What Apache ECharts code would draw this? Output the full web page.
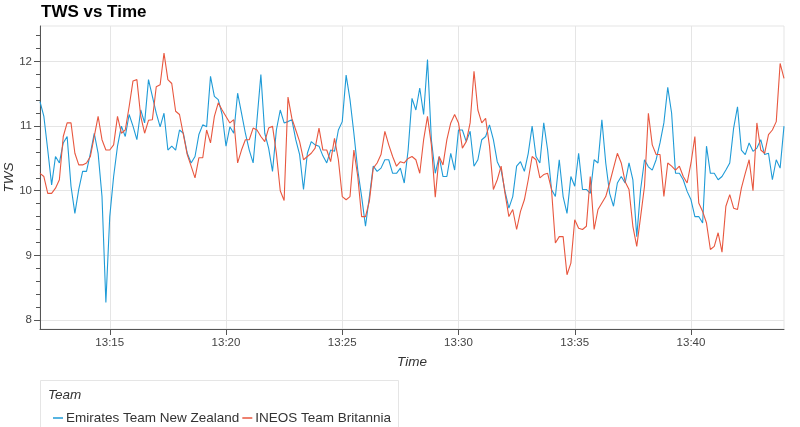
<!DOCTYPE html>
<html><head><meta charset="utf-8">
<script src="https://cdn.jsdelivr.net/npm/echarts@6/dist/echarts.min.js"></script>
<style>html,body{margin:0;padding:0;background:#fff}#c{width:800px;height:427px}</style>
</head><body><div id="c"></div>
<script>
const chartTitle = 'TWS vs Time';
const legendTitle = 'Team';
const teams = ['Emirates Team New Zealand', 'INEOS Team Britannia'];
const startTime = '13:12:00';
const endTime = '13:44:00';
const sampleSeconds = 10;
const xTickLabels = ['13:15', '13:20', '13:25', '13:30', '13:35', '13:40'];
const yTickValues = [8, 9, 10, 11, 12];

const etnz = [11.38,11.15,10.63,10.09,10.53,10.43,10.74,10.84,10.07,9.65,
10.02,10.30,10.30,10.58,10.89,10.58,9.91,8.27,9.60,10.22,
10.69,11.00,10.84,11.18,11.00,10.79,11.25,11.05,11.72,11.46,
11.20,10.99,11.20,10.63,10.69,10.63,10.94,10.89,10.58,10.43,
10.53,10.87,11.02,10.99,11.77,11.46,11.41,11.18,10.69,10.99,
10.89,11.51,11.20,10.89,10.63,10.43,11.10,11.80,10.89,10.66,
10.30,10.94,11.25,11.05,11.07,11.10,10.79,10.56,10.02,10.58,
10.76,10.71,10.69,10.54,10.43,10.63,10.61,10.94,11.07,11.79,
11.41,10.89,10.32,9.91,9.45,9.91,10.38,10.30,10.35,10.48,
10.48,10.27,10.27,10.35,10.12,10.63,11.43,11.25,11.59,11.18,
12.03,10.79,10.27,10.53,10.22,10.22,10.58,10.32,10.94,10.94,
10.76,10.92,10.38,10.48,10.79,10.84,11.02,10.79,10.45,10.32,
9.99,9.73,9.91,10.38,10.45,10.30,10.58,11.00,10.53,10.43,
11.05,10.63,10.02,9.91,10.48,9.91,9.65,10.22,10.07,10.58,
10.02,10.02,9.96,10.48,10.43,11.10,10.43,9.96,9.76,10.12,
10.22,10.12,10.43,10.17,9.29,10.02,10.48,10.37,10.32,10.48,
10.74,11.05,11.60,11.20,10.27,10.27,10.17,9.99,9.86,9.60,
9.60,9.50,10.69,10.27,10.27,10.17,10.22,10.32,10.43,10.97,
11.30,10.63,10.56,10.74,10.61,10.66,10.79,10.56,10.58,10.17,
10.48,10.35,11.00];

const ineos = [10.27,10.22,9.96,9.96,10.04,10.17,10.84,11.05,11.05,10.58,
10.40,10.40,10.43,10.53,10.84,11.15,10.79,10.63,10.63,10.71,
11.15,10.89,10.94,11.30,11.70,11.72,11.15,10.89,11.09,11.10,
11.61,11.64,12.13,11.72,11.66,11.23,11.18,10.87,10.56,10.38,
10.20,10.51,10.51,10.94,10.74,11.15,11.36,11.25,11.15,11.05,
11.10,10.43,10.63,10.79,10.79,10.97,10.94,10.84,10.76,10.97,
11.00,10.58,10.00,9.85,11.45,11.12,10.94,10.76,10.48,10.53,
10.58,10.66,10.97,10.63,10.63,10.45,10.81,10.48,9.91,9.86,
9.91,10.63,10.22,9.60,9.60,9.84,10.35,10.43,10.56,10.92,
10.71,10.53,10.38,10.45,10.43,10.50,10.53,10.48,10.27,10.79,
11.15,10.71,9.90,10.53,10.40,10.79,11.05,11.18,11.05,10.66,
10.76,11.05,11.85,11.25,11.05,11.12,10.69,10.02,10.17,10.38,
9.96,9.60,9.71,9.40,9.68,9.86,10.17,10.53,10.48,10.20,
10.25,10.27,10.02,9.19,9.29,9.29,8.70,8.88,9.55,9.42,
9.40,9.45,10.22,9.40,9.71,9.81,9.91,10.12,10.35,10.58,
10.43,10.14,10.02,9.45,9.14,9.60,10.07,11.20,10.71,10.56,
10.56,9.91,10.43,10.38,10.32,10.38,10.22,10.12,10.43,10.84,
9.81,9.68,9.50,9.09,9.14,9.35,9.05,9.76,9.94,9.73,
9.71,10.04,10.27,10.48,10.00,11.05,10.63,10.58,10.87,10.94,
11.07,11.97,11.74];

// ---- helpers ----
function toMinutes(s) { const p = s.split(':').map(Number); return p[0] * 60 + p[1] + (p[2] || 0) / 60; }
function fmt(m) { const h = Math.floor(m / 60), mm = Math.round(m - h * 60); return h + ':' + String(mm).padStart(2, '0'); }
const t0 = toMinutes(startTime);
function pairs(arr) { return arr.map((v, i) => [t0 + i * sampleSeconds / 60, v]); }
const xTicks = xTickLabels.map(toMinutes);
const yMin = 7.86, yMax = 12.55;
const minorTicks = [];
for (let k = Math.ceil(yMin * 5); k <= Math.floor(yMax * 5); k++) { if (k % 5 !== 0) minorTicks.push(k / 5); }

const FONT = '"Liberation Sans", Arial, Helvetica, sans-serif';
const colors = ['#1f9bd7', '#e8573f'];

const chart = echarts.init(document.getElementById('c'), null, { renderer: 'canvas' });
chart.setOption({
  animation: false,
  backgroundColor: '#ffffff',
  color: colors,
  title: { text: chartTitle, left: 41, top: 4, padding: 0,
    textStyle: { fontFamily: FONT, fontSize: 17, fontWeight: 'bold', color: '#000' } },
  grid: { left: 40, right: 16, top: 26, bottom: 98, containLabel: false, outerBoundsMode: 'none',
    show: true, borderColor: '#e5e5e5', borderWidth: 1, backgroundColor: 'transparent' },
  xAxis: {
    type: 'value', min: toMinutes(startTime), max: toMinutes(endTime),
    name: 'Time', nameLocation: 'middle', nameGap: 26, nameMoveOverlap: false,
    nameTextStyle: { fontFamily: FONT, fontSize: 13.5, fontStyle: 'italic', color: '#333' },
    axisLine: { show: true, lineStyle: { color: '#555', width: 1 } },
    axisTick: { show: true, length: 6, customValues: xTicks, lineStyle: { color: '#555' } },
    axisLabel: { customValues: xTicks, formatter: fmt, margin: 8, fontFamily: FONT, fontSize: 11.5, color: '#444' },
    splitLine: { show: true, lineStyle: { color: '#e5e5e5', width: 1 } }
  },
  yAxis: [{
    type: 'value', min: yMin, max: yMax,
    name: 'TWS', nameLocation: 'middle', nameGap: 24, nameMoveOverlap: false,
    nameTextStyle: { fontFamily: FONT, fontSize: 13.5, fontStyle: 'italic', color: '#333' },
    axisLine: { show: true, lineStyle: { color: '#555', width: 1 } },
    axisTick: { show: true, length: 6, customValues: yTickValues, lineStyle: { color: '#555' } },
    axisLabel: { customValues: yTickValues, margin: 8, fontFamily: FONT, fontSize: 11.5, color: '#444' },
    splitLine: { show: true, lineStyle: { color: '#e5e5e5', width: 1 } }
  }, {
    type: 'value', min: yMin, max: yMax, position: 'left',
    axisLine: { show: false },
    axisTick: { show: true, length: 4, customValues: minorTicks, lineStyle: { color: '#555' } },
    axisLabel: { show: false, customValues: minorTicks },
    splitLine: { show: false }
  }],
  legend: {
    data: teams, left: 48, top: 406, orient: 'horizontal',
    icon: 'rect', itemWidth: 10, itemHeight: 1.5, itemGap: 3,
    textStyle: { fontFamily: FONT, fontSize: 13.5, color: '#333', padding: [0, 0, 0, -2] }
  },
  graphic: [
    { type: 'rect', shape: { x: 40.5, y: 380.5, width: 358, height: 60 }, style: { fill: '#fff', stroke: '#e5e5e5', lineWidth: 1 }, z: -1 },
    { type: 'text', x: 48, y: 395, style: { text: legendTitle, font: 'italic 13.5px ' + FONT, fill: '#333', textVerticalAlign: 'middle' } }
  ],
  series: [
    { name: teams[0], type: 'line', data: pairs(etnz), showSymbol: false, lineStyle: { width: 1.1, color: colors[0] }, itemStyle: { color: colors[0] } },
    { name: teams[1], type: 'line', data: pairs(ineos), showSymbol: false, lineStyle: { width: 1.1, color: colors[1] }, itemStyle: { color: colors[1] } }
  ]
});
</script></body></html>
